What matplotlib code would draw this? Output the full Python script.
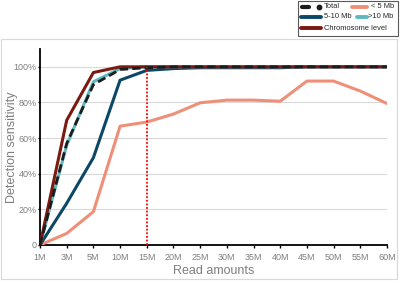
import matplotlib.pyplot as plt
from matplotlib.patches import Rectangle
from matplotlib.lines import Line2D

plt.rcParams['font.family'] = ['Liberation Sans', 'DejaVu Sans']

# read amounts (categories, equally spaced on the axis)
read_amounts = ['1M', '3M', '5M', '10M', '15M', '20M', '25M', '30M',
                '35M', '40M', '45M', '50M', '55M', '60M']

# detection sensitivity (%)
total = [0, 57, 90, 98.5, 99.5, 100, 100, 100, 100, 100, 100, 100, 100, 100]
lt_5mb = [0, 6.5, 18.7, 66.7, 69, 73.5, 79.8, 81.3, 81.3, 80.7, 92, 92, 86.4, 79.4]
mb_5_10 = [0, 23.4, 49, 92.5, 98, 99, 99.5, 99.5, 99.5, 99.5, 100, 100, 100, 100]
gt_10mb = [0, 56, 91.6, 99, 100, 100, 100, 100, 100, 100, 100, 100, 100, 100]
chromosome = [0, 70, 96.8, 100, 100, 100, 100, 100, 100, 100, 100, 100, 100, 100]

cutoff = '15M'
y_ticks = [0, 20, 40, 60, 80, 100]
y_labels = ['0', '20%', '40%', '60%', '80%', '100%']

c_total = '#1c1c1c'
c_lt5 = '#f08f78'
c_510 = '#0b4868'
c_gt10 = '#5cb9c2'
c_chrom = '#7b1a10'
grey = '#7f7f7f'

W, H = 400, 282


def fx(px):
    return px / W


def fy(py):
    return 1 - py / H


fig = plt.figure(figsize=(4, 2.82), dpi=100)
# light frame around the chart area
fig.patches.append(Rectangle((fx(0.5), fy(279)), fx(396.5), 240 / H,
                             transform=fig.transFigure, fill=False,
                             edgecolor='#d9d9d9', lw=0.8))

ax = fig.add_axes([fx(40), fy(245), fx(347), 196 / H])
x = list(range(len(read_amounts)))

ax.plot(x, lt_5mb, color=c_lt5, lw=2.2, zorder=3)
ax.plot(x, mb_5_10, color=c_510, lw=2.2, zorder=3)
ax.plot(x, gt_10mb, color=c_gt10, lw=2.2, zorder=4)
ax.plot(x, total, color=c_total, lw=2.0, dashes=(3, 1.5), zorder=5)
ax.plot(x, chromosome, color=c_chrom, lw=2.2, zorder=4)

xc = read_amounts.index(cutoff)
ax.plot([xc, xc], [0, 100], color='red', lw=1.3, ls=(0, (1, 1)), zorder=6)

ax.set_xlim(0, len(read_amounts) - 1)
ax.set_ylim(0, 110)
ax.set_xticks(x)
ax.set_xticklabels(read_amounts)
ax.set_yticks(y_ticks)
ax.set_yticklabels(y_labels)
ax.tick_params(axis='both', labelsize=6.5, labelcolor=grey, color='black',
               width=1)
ax.tick_params(axis='x', length=2.2, pad=3.5)
ax.tick_params(axis='y', length=1.8, pad=0.6)
ax.grid(axis='y', color='#d9d9d9', lw=0.8)
ax.set_axisbelow(True)
for s in ['top', 'right']:
    ax.spines[s].set_visible(False)
for s in ['left', 'bottom']:
    ax.spines[s].set_linewidth(1.3)
ax.set_xlabel('Read amounts', fontsize=9, color=grey, labelpad=2)
ax.set_ylabel('Detection sensitivity', fontsize=9, color=grey)
ax.yaxis.set_label_coords(-0.062, 0.5)

# legend drawn by hand (Excel-style layout)
fig.patches.append(Rectangle((fx(297.5), fy(35.5)), fx(100.5), 35 / H,
                             transform=fig.transFigure, fill=True,
                             facecolor='white', edgecolor='#595959', lw=0.8))
legend_items = [
    ('Total', c_total, 299, 322, 324, 6.7, True),
    ('< 5 Mb', c_lt5, 350, 368, 371, 6.7, False),
    ('5-10 Mb', c_510, 299, 322, 323.5, 17, False),
    ('>10 Mb', c_gt10, 355, 368, 368.5, 17, False),
    ('Chromosome level', c_chrom, 299, 322, 324, 28, False),
]
for label, col, x0, x1, xt, yy, dashed in legend_items:
    if dashed:
        # thick dash followed by a dot
        fig.lines.append(Line2D([fx(301.5), fx(309)], [fy(yy), fy(yy)],
                                transform=fig.transFigure, color=col, lw=3,
                                solid_capstyle='round'))
        fig.lines.append(Line2D([fx(318.5)], [fy(yy)], transform=fig.transFigure,
                                marker='o', ms=3.2, color=col, lw=0))
    else:
        fig.lines.append(Line2D([fx(x0 + 1.5), fx(x1 - 1.5)], [fy(yy), fy(yy)],
                                transform=fig.transFigure, color=col, lw=2.8,
                                solid_capstyle='round'))
    fig.text(fx(xt), fy(yy), label, fontsize=5.4, color='#262626',
             ha='left', va='center')

fig.savefig('out.png', dpi=100)
